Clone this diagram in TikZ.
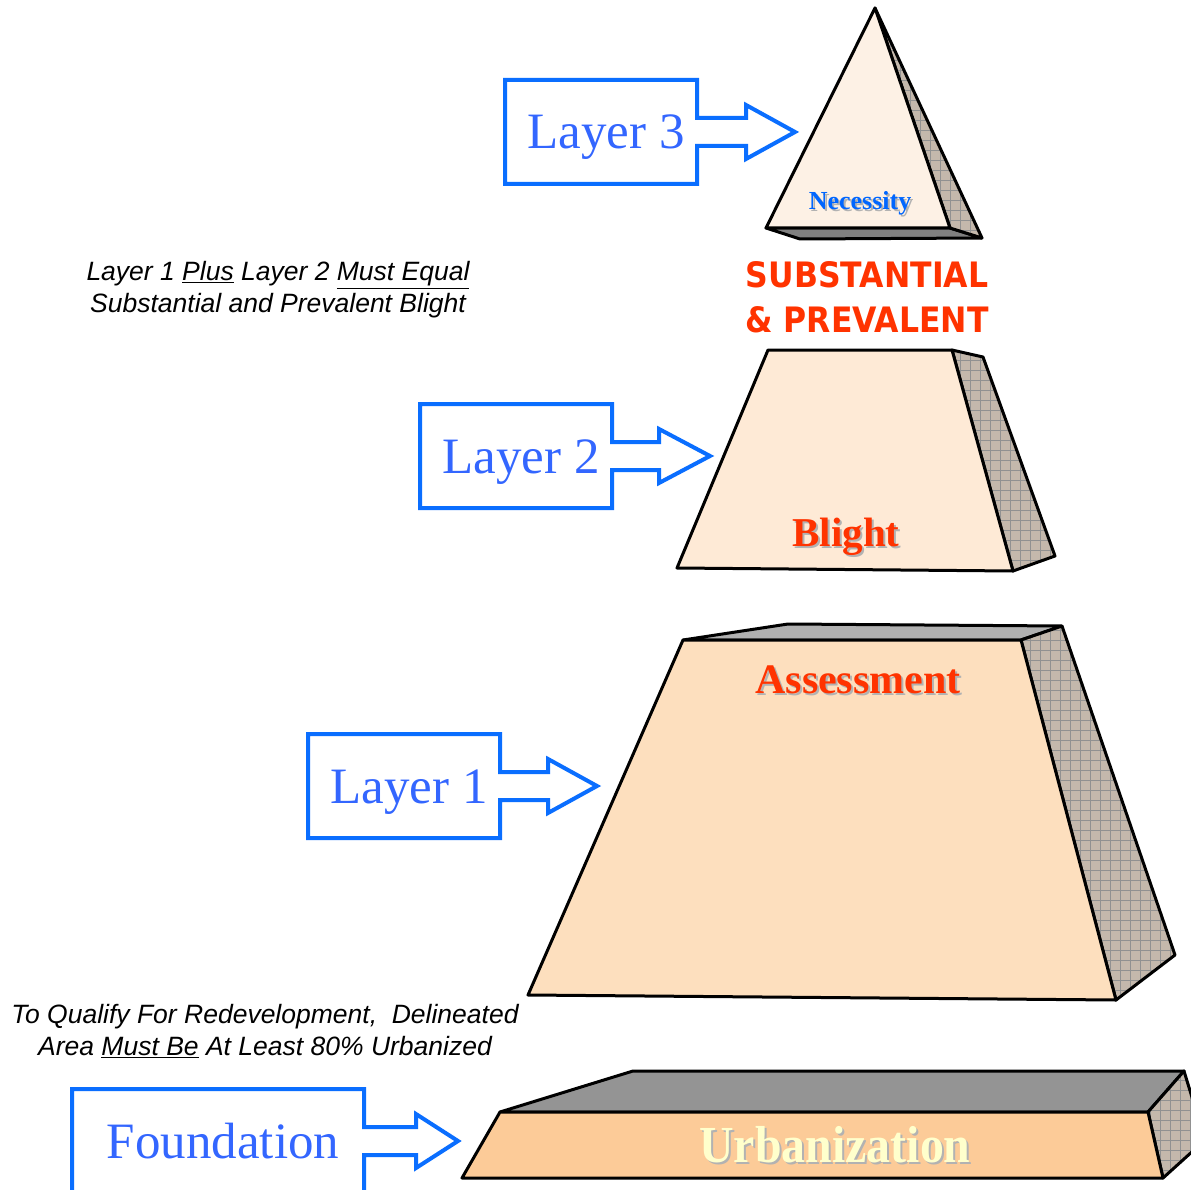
\documentclass[tikz,border=0pt]{standalone}
\usepackage{fontspec}
\setmainfont{Liberation Serif}
\setsansfont{Liberation Sans}
\newfontfamily\capsfont{DejaVu Sans}

\definecolor{boxblue}{RGB}{10,110,255}
\definecolor{layerblue}{RGB}{51,102,255}
\definecolor{necblue}{RGB}{0,102,255}
\definecolor{labelred}{RGB}{255,51,0}
\definecolor{apexface}{RGB}{253,241,229}
\definecolor{midface}{RGB}{254,234,214}
\definecolor{lowface}{RGB}{253,223,190}
\definecolor{baseface}{RGB}{252,203,152}
\definecolor{sidecol}{RGB}{196,184,172}
\definecolor{gridcol}{RGB}{145,145,145}
\definecolor{urbyellow}{RGB}{255,255,204}

% side face with a fine grid on it
\newcommand{\sideface}[1]{%
  \begin{scope}
    \clip #1 -- cycle;
    \fill[sidecol] #1 -- cycle;
    \foreach \g in {0,10,...,1200} {
      \draw[gridcol, line width=0.6pt] (\g,0) -- (\g,1200);
      \draw[gridcol, line width=0.6pt] (0,\g) -- (1200,\g);
    }
  \end{scope}
  \draw[face] #1 -- cycle;}

% label with a soft shadow
\newcommand{\labeltext}[5]{%
  \node[#4, text=black!30] at ({#2+2},{#3+2}) {#5};
  \node[#4] (#1) at (#2,#3) {#5};}

% blue box with arrow
\newcommand{\layerbox}[8]{%
  \pgfmathsetmacro{\boxmid}{(#3+#5)/2}
  \draw[layerline] (#2,#3) -- (#4,#3) -- (#4,\boxmid-14) -- (#6,\boxmid-14)
    -- (#6,\boxmid-27) -- (#7,\boxmid) -- (#6,\boxmid+27) -- (#6,\boxmid+14)
    -- (#4,\boxmid+14) -- (#4,#5) -- (#2,#5) -- cycle;
  \node[layertext] (#1) at ({(#2+#4)/2+5},\boxmid+17) {#8};}

\begin{document}
\begin{tikzpicture}[x=1pt, y=-1pt,
    face/.style={draw=black, line width=3pt, line join=round},
    layerline/.style={draw=boxblue, line width=4pt, fill=white},
    layertext/.style={anchor=base, inner sep=0pt, text=layerblue,
      font=\fontsize{51}{51}\selectfont},
    solidlabel/.style={inner sep=0pt, font=\bfseries\fontsize{42}{42}\selectfont},
    note/.style={align=center, inner sep=0pt,
      font=\sffamily\itshape\fontsize{26.5}{32}\selectfont}]
    \useasboundingbox (0,0) rectangle (1191,1190);
    \clip (0,0) rectangle (1191,1190);
    \fill[white] (0,0) rectangle (1191,1190);

    % Layer 3 pyramid
    \coordinate (p3top) at (875,8);
    \coordinate (p3bl) at (766,228);
    \coordinate (p3br) at (950,228);
    \coordinate (p3bk) at (982,238);
    \coordinate (p3bb) at (800,239);
    \draw[face, fill=black!50] (p3bl) -- (p3br) -- (p3bk) -- (p3bb) -- cycle;
    \sideface{(p3top) -- (p3br) -- (p3bk)}
    \draw[face, fill=apexface] (p3top) -- (p3bl) -- (p3br) -- cycle;

    % Layer 2 block
    \coordinate (l2tl) at (768,350);
    \coordinate (l2tr) at (952,350);
    \coordinate (l2br) at (1013,571);
    \coordinate (l2bl) at (677,568);
    \coordinate (l2tk) at (983,357);
    \coordinate (l2bk) at (1055,556);
    \sideface{(l2tr) -- (l2tk) -- (l2bk) -- (l2br)}
    \draw[face, fill=midface] (l2tl) -- (l2tr) -- (l2br) -- (l2bl) -- cycle;

    % Layer 1 block
    \coordinate (l1tl) at (683,640);
    \coordinate (l1tr) at (1021,640);
    \coordinate (l1br) at (1116,1000);
    \coordinate (l1bl) at (528,995);
    \coordinate (l1kl) at (788,624);
    \coordinate (l1kr) at (1062,626);
    \coordinate (l1bk) at (1175,955);
    \draw[face, fill=black!31] (l1tl) -- (l1kl) -- (l1kr) -- (l1tr) -- cycle;
    \sideface{(l1tr) -- (l1kr) -- (l1bk) -- (l1br)}
    \draw[face, fill=lowface] (l1tl) -- (l1tr) -- (l1br) -- (l1bl) -- cycle;

    % Foundation slab
    \coordinate (f0tl) at (500,1112);
    \coordinate (f0tr) at (1148,1112);
    \coordinate (f0br) at (1163,1178);
    \coordinate (f0bl) at (462,1178);
    \coordinate (f0kl) at (633,1071);
    \coordinate (f0kr) at (1184,1071);
    \coordinate (f0bk) at (1205,1140);
    \draw[face, fill=black!42] (f0tl) -- (f0kl) -- (f0kr) -- (f0tr) -- cycle;
    \sideface{(f0tr) -- (f0kr) -- (f0bk) -- (f0br)}
    \draw[face, fill=baseface] (f0tl) -- (f0tr) -- (f0br) -- (f0bl) -- cycle;

    % Labels on the solids
    \labeltext{necessity}{860}{203}{solidlabel, text=necblue,
      font=\bfseries\fontsize{26}{26}\selectfont}{Necessity}
    \labeltext{blight}{846}{537}{solidlabel, text=labelred,
      font=\bfseries\fontsize{41}{41}\selectfont}{Blight}
    \labeltext{assessment}{858}{680}{solidlabel, text=labelred}{Assessment}
    \labeltext{urbanization}{835}{1145}{solidlabel, text=urbyellow, xscale=0.92,
      font=\bfseries\fontsize{52}{52}\selectfont}{Urbanization}
    \node[text=labelred, align=center, inner sep=0pt, xscale=0.9,
      font=\capsfont\bfseries\fontsize{35}{45}\selectfont]
      (subst) at (867,297) {SUBSTANTIAL\\\& PREVALENT};

    % Layer boxes
    \layerbox{layer3}{505}{80}{697}{184}{746}{795}{Layer 3}
    \layerbox{layer2}{420}{404}{612}{508}{659}{710}{Layer 2}
    \layerbox{layer1}{308}{734}{500}{838}{548}{597}{Layer 1}
    \layerbox{found}{72}{1089}{364}{1193}{416}{458}{Foundation}

    % Notes
    \node[note] (sumnote) at (278,290)
      {Layer 1 \underline{Plus} Layer 2 \underline{Must Equal}\\
       Substantial and Prevalent Blight};
    \node[note] (urbnote) at (265,1031)
      {To Qualify For Redevelopment,\ \ Delineated\\
       Area \underline{Must Be} At Least 80\% Urbanized};
\end{tikzpicture}
\end{document}
